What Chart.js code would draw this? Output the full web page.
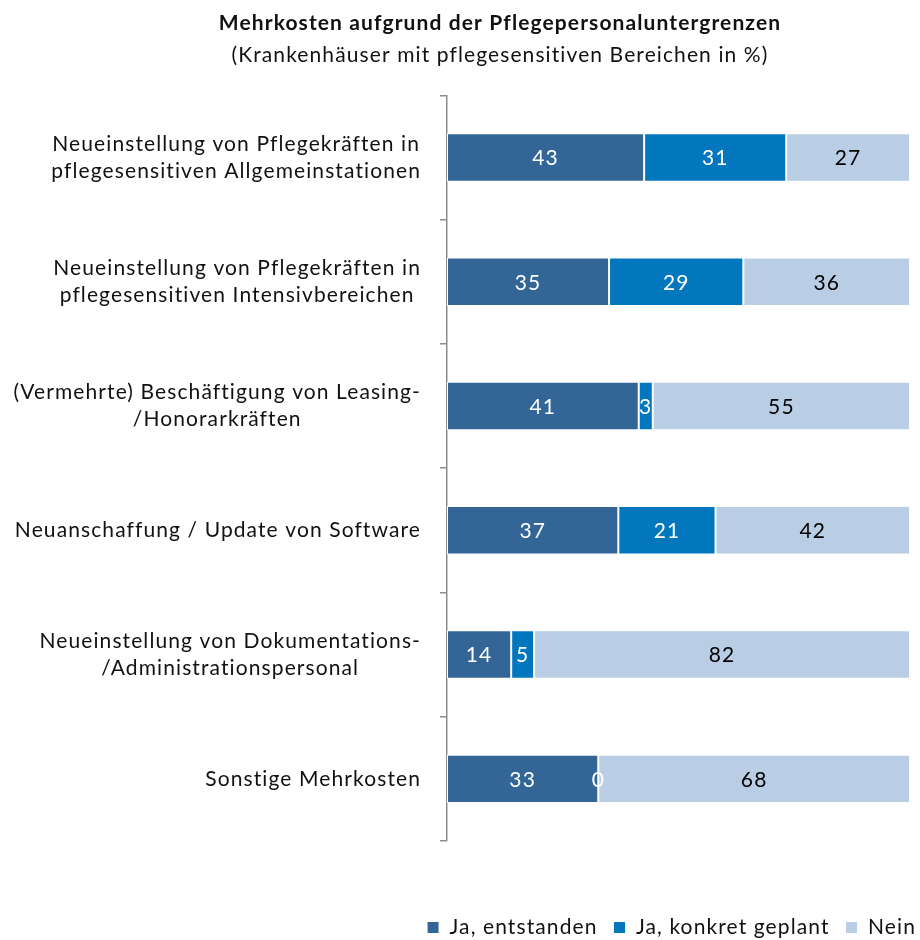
<!DOCTYPE html>
<html>
<head>
<meta charset="utf-8">
<script src="https://cdn.jsdelivr.net/npm/chart.js@4"></script>
<style>
  html, body { margin: 0; padding: 0; background: #fff; }
  #wrap { width: 920px; height: 940px; }
</style>
</head>
<body>
<div id="wrap"><canvas id="canvas_mehrkosten"></canvas></div>
<script>
var categories = [
    ['Neueinstellung von Pflegekräften in', 'pflegesensitiven Allgemeinstationen'],
    ['Neueinstellung von Pflegekräften in', 'pflegesensitiven Intensivbereichen'],
    ['(Vermehrte) Beschäftigung von Leasing-', '/Honorarkräften'],
    ['Neuanschaffung / Update von Software'],
    ['Neueinstellung von Dokumentations-', '/Administrationspersonal'],
    ['Sonstige Mehrkosten']
];
var entstanden = [43, 35, 41, 37, 14, 33];
var geplant = [31, 29, 3, 21, 5, 0];
var nein = [27, 36, 55, 42, 82, 68];

var FONT = 'Lato, "Open Sans", sans-serif';
var SPACING = '1.1px';
var labelColors = ['#ffffff', '#ffffff', '#000000'];

// 100% stacked: each row is scaled to its own total, labels keep the raw numbers
var rowTotals = entstanden.map((v, i) => v + geplant[i] + nein[i]);
function share(arr) {
    return arr.map((v, i) => v / rowTotals[i] * 100);
}
var rawValues = [entstanden, geplant, nein];

// the source uses a widely spaced font, canvas letterSpacing gets close to it
const spacing = {
    id: 'spacing',
    beforeLayout(chart) { chart.ctx.letterSpacing = SPACING; },
    beforeDraw(chart) { chart.ctx.letterSpacing = SPACING; },
    afterLayout(chart) {
        // legend sits further right than the plot edge in the source
        chart.legend.left += 22;
        chart.legend.right += 22;
    }
};

// value labels in the middle of every bar segment
const segmentLabels = {
    id: 'segmentLabels',
    afterDatasetsDraw(chart) {
        const c = chart.ctx;
        c.save();
        c.font = '21px ' + FONT;
        c.textAlign = 'center';
        c.textBaseline = 'middle';
        chart.data.datasets.forEach((ds, i) => {
            const meta = chart.getDatasetMeta(i);
            meta.data.forEach((bar, j) => {
                const v = rawValues[i][j];
                if (v === null || v === undefined) return;
                c.fillStyle = labelColors[i];
                c.fillText(String(v), (bar.base + bar.x) / 2, bar.y + 1);
            });
        });
        c.restore();
    }
};

// category labels: block right aligned, lines centred inside the block
const categoryLabels = {
    id: 'categoryLabels',
    afterDraw(chart) {
        const c = chart.ctx;
        const y = chart.scales.y;
        const right = 421;
        const lh = 27;
        c.save();
        c.font = '21px ' + FONT;
        c.fillStyle = '#111';
        c.textAlign = 'center';
        c.textBaseline = 'middle';
        categories.forEach((lines, i) => {
            const w = Math.max(...lines.map(l => c.measureText(l).width));
            const cx = right - w / 2;
            const cy = y.getPixelForValue(i) - (lines.length - 1) * lh / 2;
            lines.forEach((l, k) => c.fillText(l, cx, cy + k * lh));
        });
        c.restore();
    }
};

const ctx = document.getElementById('canvas_mehrkosten').getContext('2d');
var chart1 = new Chart(ctx, {
    type: 'bar',
    data: {
        labels: categories,
        datasets: [
            {
                label: 'Ja, entstanden',
                data: share(entstanden),
                backgroundColor: '#336697'
            },
            {
                label: 'Ja, konkret geplant',
                data: share(geplant),
                backgroundColor: '#0277bd'
            },
            {
                label: 'Nein',
                data: share(nein),
                backgroundColor: '#b9cde5'
            }
        ]
    },
    options: {
        indexAxis: 'y',
        responsive: true,
        maintainAspectRatio: false,
        animation: false,
        layout: { padding: { left: 90, right: 10, top: 0, bottom: -8 } },
        datasets: {
            bar: {
                barPercentage: 0.39,
                categoryPercentage: 1,
                borderColor: '#ffffff',
                borderWidth: 1,
                borderSkipped: false
            }
        },
        plugins: {
            title: {
                display: true,
                text: 'Mehrkosten aufgrund der Pflegepersonaluntergrenzen',
                color: '#111',
                font: { family: FONT, size: 21, weight: 'bold' },
                padding: { top: 11, bottom: 4 }
            },
            subtitle: {
                display: true,
                text: '(Krankenhäuser mit pflegesensitiven Bereichen in %)',
                color: '#111',
                font: { family: FONT, size: 21 },
                padding: { top: 2, bottom: 28 }
            },
            legend: {
                position: 'bottom',
                align: 'end',
                labels: {
                    boxWidth: 12,
                    boxHeight: 12,
                    padding: 16,
                    color: '#111',
                    font: { family: FONT, size: 21 }
                }
            },
            tooltip: { enabled: false }
        },
        scales: {
            x: {
                stacked: true,
                min: 0,
                max: 100,
                ticks: { display: false },
                grid: { display: false },
                border: { display: false },
                afterFit: s => { s.height = 60; }
            },
            y: {
                stacked: true,
                ticks: { display: false },
                grid: {
                    offset: true,
                    drawOnChartArea: false,
                    tickLength: 7,
                    color: '#8c8c8c',
                    lineWidth: 1.5
                },
                border: { color: '#8c8c8c', width: 1.5 },
                afterFit: s => { s.width = 357; }
            }
        }
    },
    plugins: [spacing, segmentLabels, categoryLabels]
});
</script>
</body>
</html>
